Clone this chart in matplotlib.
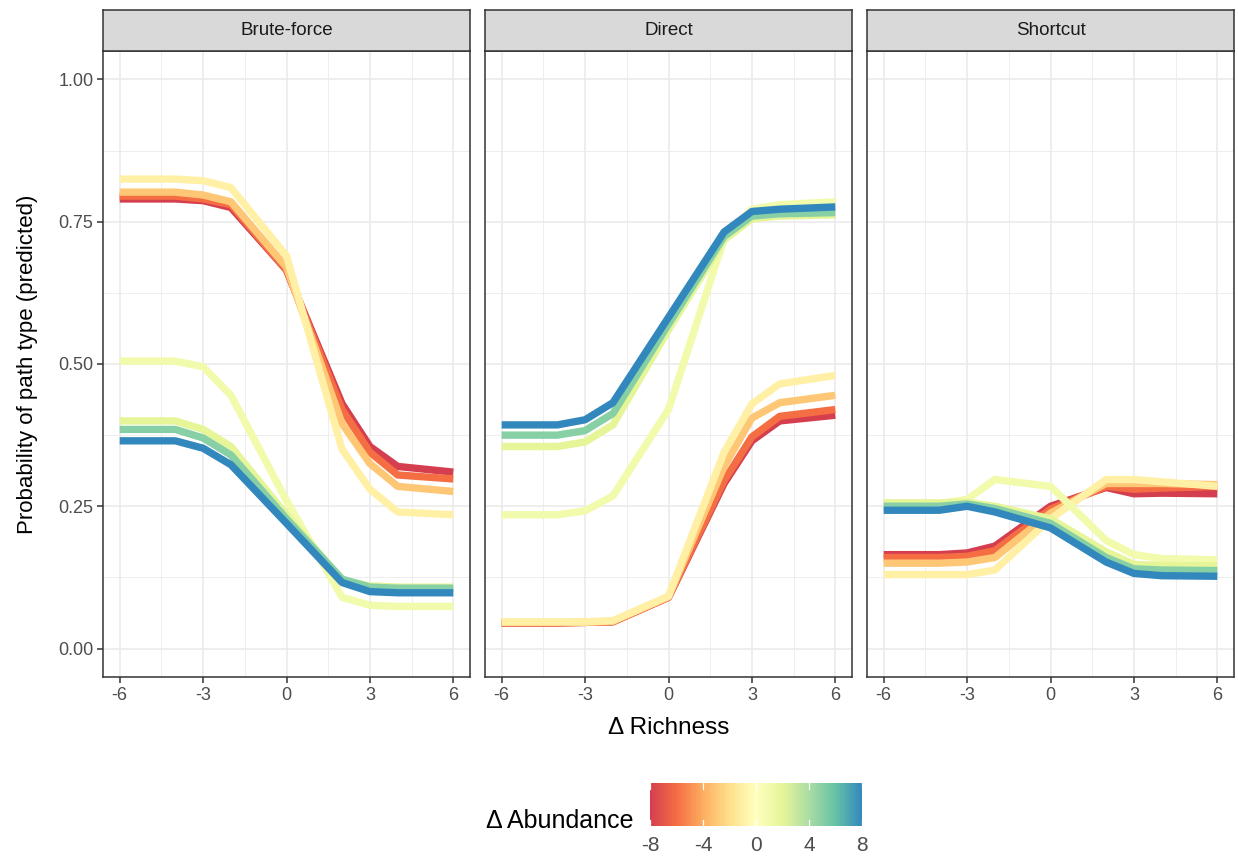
import matplotlib
matplotlib.use("Agg")
import matplotlib.pyplot as plt
from matplotlib.colors import LinearSegmentedColormap, Normalize
from matplotlib.cm import ScalarMappable
import numpy as np

# ---- data -------------------------------------------------------------
PANELS = ["Brute-force", "Direct", "Shortcut"]
RICHNESS = [-6, -4, -3, -2, 0, 2, 3, 4, 6]
ABUNDANCE = [-8, -6, -3, -1, 1, 2, 5, 8]

# predicted probability per abundance level (rows) along richness (columns)
BRUTE_FORCE = [
    [0.790, 0.790, 0.787, 0.775, 0.665, 0.430, 0.355, 0.320, 0.310],
    [0.795, 0.795, 0.790, 0.780, 0.665, 0.420, 0.345, 0.305, 0.298],
    [0.802, 0.802, 0.797, 0.785, 0.670, 0.395, 0.325, 0.285, 0.276],
    [0.825, 0.825, 0.822, 0.810, 0.690, 0.350, 0.280, 0.240, 0.235],
    [0.505, 0.505, 0.495, 0.445, 0.260, 0.090, 0.076, 0.074, 0.074],
    [0.400, 0.400, 0.385, 0.355, 0.235, 0.120, 0.110, 0.108, 0.108],
    [0.385, 0.385, 0.370, 0.340, 0.228, 0.122, 0.108, 0.106, 0.106],
    [0.365, 0.365, 0.352, 0.323, 0.220, 0.116, 0.100, 0.098, 0.098],
]
DIRECT = [
    [0.045, 0.045, 0.046, 0.047, 0.090, 0.290, 0.365, 0.400, 0.410],
    [0.045, 0.045, 0.046, 0.047, 0.090, 0.295, 0.372, 0.408, 0.420],
    [0.046, 0.046, 0.046, 0.048, 0.091, 0.320, 0.405, 0.432, 0.445],
    [0.047, 0.047, 0.047, 0.049, 0.092, 0.345, 0.430, 0.465, 0.480],
    [0.235, 0.235, 0.242, 0.268, 0.420, 0.720, 0.772, 0.780, 0.785],
    [0.355, 0.355, 0.363, 0.393, 0.560, 0.718, 0.755, 0.760, 0.762],
    [0.375, 0.375, 0.383, 0.413, 0.570, 0.724, 0.760, 0.764, 0.766],
    [0.393, 0.393, 0.402, 0.432, 0.582, 0.732, 0.768, 0.772, 0.776],
]
SHORTCUT = [
    [0.165, 0.165, 0.168, 0.180, 0.250, 0.283, 0.272, 0.273, 0.272],
    [0.160, 0.160, 0.162, 0.172, 0.245, 0.285, 0.280, 0.282, 0.285],
    [0.150, 0.150, 0.152, 0.160, 0.238, 0.290, 0.290, 0.290, 0.288],
    [0.130, 0.130, 0.130, 0.138, 0.228, 0.297, 0.297, 0.293, 0.285],
    [0.255, 0.255, 0.262, 0.297, 0.285, 0.190, 0.165, 0.158, 0.156],
    [0.256, 0.256, 0.257, 0.250, 0.228, 0.170, 0.148, 0.146, 0.145],
    [0.250, 0.250, 0.254, 0.246, 0.220, 0.160, 0.140, 0.138, 0.137],
    [0.243, 0.243, 0.250, 0.240, 0.212, 0.152, 0.132, 0.128, 0.127],
]
PANEL_DATA = [BRUTE_FORCE, DIRECT, SHORTCUT]

X_TICKS = [-6, -3, 0, 3, 6]
Y_TICKS = [0.0, 0.25, 0.5, 0.75, 1.0]
Y_TICK_LABELS = ["0.00", "0.25", "0.50", "0.75", "1.00"]
CBAR_TICKS = [-8, -4, 0, 4, 8]

# ---- style ------------------------------------------------------------
plt.rcParams["font.family"] = ["Liberation Sans", "DejaVu Sans"]
SPECTRAL9 = ["#D53E4F", "#F46D43", "#FDAE61", "#FEE08B", "#FFFFBF",
             "#E6F598", "#ABDDA4", "#66C2A5", "#3288BD"]
cmap = LinearSegmentedColormap.from_list("spectral9", SPECTRAL9)
norm = Normalize(vmin=-8, vmax=8)

W, H = 1238, 861
fig = plt.figure(figsize=(W / 100, H / 100), dpi=100)

panel_left = [103, 485, 867]
panel_w = 367
panel_top, panel_bottom = 51, 677
strip_top = 10

border_col = "#333333"
grid_col = "#EBEBEB"

for i, (name, data) in enumerate(zip(PANELS, PANEL_DATA)):
    l = panel_left[i] / W
    b = 1 - panel_bottom / H
    ax = fig.add_axes([l, b, panel_w / W, (panel_bottom - panel_top) / H])
    ax.set_xlim(-6.6, 6.6)
    ax.set_ylim(-0.05, 1.05)
    ax.set_xticks(X_TICKS)
    ax.set_xticks([-4.5, -1.5, 1.5, 4.5], minor=True)
    ax.set_yticks(Y_TICKS)
    ax.set_yticks([0.125, 0.375, 0.625, 0.875], minor=True)
    ax.grid(which="major", color=grid_col, lw=1.2)
    ax.grid(which="minor", color=grid_col, lw=0.6)
    ax.set_axisbelow(True)
    for sp in ax.spines.values():
        sp.set_color(border_col)
        sp.set_linewidth(1.1)
    ax.tick_params(axis="both", which="major", length=4, width=1.1,
                   color=border_col, labelcolor="#4D4D4D", labelsize=13,
                   pad=3)
    ax.tick_params(which="minor", length=0)
    ax.set_xticklabels([str(t) for t in X_TICKS])
    if i == 0:
        ax.set_yticklabels(Y_TICK_LABELS)
    else:
        ax.set_yticklabels([])
        ax.tick_params(axis="y", length=0)

    for a, ys in zip(ABUNDANCE, data):
        ax.plot(RICHNESS, ys, color=cmap(norm(a)), lw=5.3,
                solid_capstyle="butt", solid_joinstyle="round")

    # facet strip
    sax = fig.add_axes([l, 1 - panel_top / H, panel_w / W,
                        (panel_top - strip_top) / H])
    sax.set_facecolor("#D9D9D9")
    sax.set_xticks([])
    sax.set_yticks([])
    for sp in sax.spines.values():
        sp.set_color(border_col)
        sp.set_linewidth(1.1)
    sax.text(0.5, 0.5, name, ha="center", va="center", fontsize=13.5,
             color="#1A1A1A", transform=sax.transAxes)

# axis titles
fig.text(28 / W, 1 - 364 / H, "Probability of path type (predicted)",
         rotation=90, ha="center", va="center", fontsize=16, color="black")
fig.text(669 / W, 1 - 728 / H, "Δ Richness", ha="center", va="center",
         fontsize=17.5, color="black")

# colour bar legend
cax = fig.add_axes([650 / W, 1 - 826 / H, 212 / W, 43 / H])
sm = ScalarMappable(norm=norm, cmap=cmap)
cb = fig.colorbar(sm, cax=cax, orientation="horizontal", ticks=CBAR_TICKS)
cb.outline.set_visible(False)
cax.tick_params(axis="x", length=0, labelcolor="#4D4D4D", labelsize=15,
                pad=7)
cax.set_xticklabels([str(t) for t in CBAR_TICKS])
# short white tick marks inside the bar, top and bottom
for t in CBAR_TICKS:
    cax.plot([t, t], [0, 0.15], color="white", lw=0.9,
             transform=cax.get_xaxis_transform(), clip_on=False)
    cax.plot([t, t], [0.85, 1.0], color="white", lw=0.9,
             transform=cax.get_xaxis_transform(), clip_on=False)
fig.text(633 / W, 1 - 821 / H, "Δ Abundance", ha="right", va="center",
         fontsize=18, color="black")

fig.savefig("out.png", dpi=100, facecolor="white")
